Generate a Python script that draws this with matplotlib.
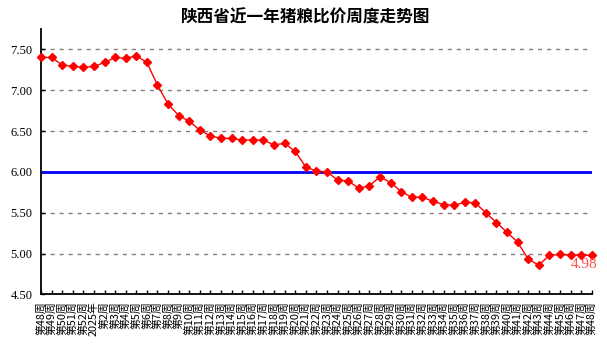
import matplotlib
matplotlib.use("Agg")
import matplotlib.pyplot as plt

plt.rcParams['font.family'] = ['Noto Sans CJK SC', 'DejaVu Sans']

# week labels
weeks = ["第48周", "第49周", "第50周", "第51周", "第52周", "2025年"] + \
        [f"第{i}周" for i in range(2, 49)]

# pig/grain price ratio
ratio = [7.40, 7.40, 7.31, 7.29, 7.28, 7.29, 7.34, 7.40, 7.39, 7.42,
         7.34, 7.06, 6.83, 6.69, 6.62, 6.51, 6.44, 6.41, 6.41, 6.39,
         6.39, 6.39, 6.33, 6.35, 6.25, 6.06, 6.01, 6.00, 5.90, 5.89,
         5.80, 5.83, 5.94, 5.87, 5.76, 5.69, 5.69, 5.64, 5.60, 5.59,
         5.63, 5.62, 5.50, 5.38, 5.26, 5.14, 4.93, 4.86, 4.98, 4.99,
         4.98, 4.98, 4.98]

ref_line = 6.00
yticks = [4.50, 5.00, 5.50, 6.00, 6.50, 7.00, 7.50]

fig = plt.figure(figsize=(6.07, 3.44), dpi=100)
ax = fig.add_axes([0.0675, 0.144, 0.9075, 0.772])

x = list(range(len(ratio)))

# dashed grid
for yv in yticks[1:]:
    ax.axhline(yv, color="#808080", linestyle=(0, (3, 3.5)), linewidth=1, zorder=1)

ax.axhline(ref_line, color="#0000ff", linewidth=2, zorder=2)

ax.plot(x, ratio, color="#ff0000", linewidth=1, marker="D",
        markersize=4.5, zorder=3, clip_on=False)

ax.annotate(f"{ratio[-1]:.2f}", (x[-1], ratio[-1]), xytext=(-15, -6.5),
            textcoords="offset points", ha="left", va="center",
            color="#ff5050", fontsize=11, family="Liberation Serif",
            annotation_clip=False)

ax.set_xlim(0, len(ratio) - 1)
ax.set_ylim(4.5, 7.75)

ax.set_yticks(yticks)
ax.set_yticklabels([f"{v:.2f}" for v in yticks], family="Liberation Serif",
                   fontsize=9)
ax.set_xticks(x)
ax.set_xticklabels(weeks, rotation=90, fontsize=7.8)

ax.tick_params(axis="x", direction="in", length=3, pad=5, width=1)
ax.tick_params(axis="y", direction="in", length=3, pad=6, width=1)

ax.spines["top"].set_visible(False)
ax.spines["right"].set_visible(False)
ax.spines["left"].set_linewidth(1.3)
ax.spines["bottom"].set_linewidth(1.3)

fig.text(0.503, 0.95, "陕西省近一年猪粮比价周度走势图", ha="center",
         va="center", fontsize=12, fontweight="bold")

fig.savefig("out.png", dpi=100)
